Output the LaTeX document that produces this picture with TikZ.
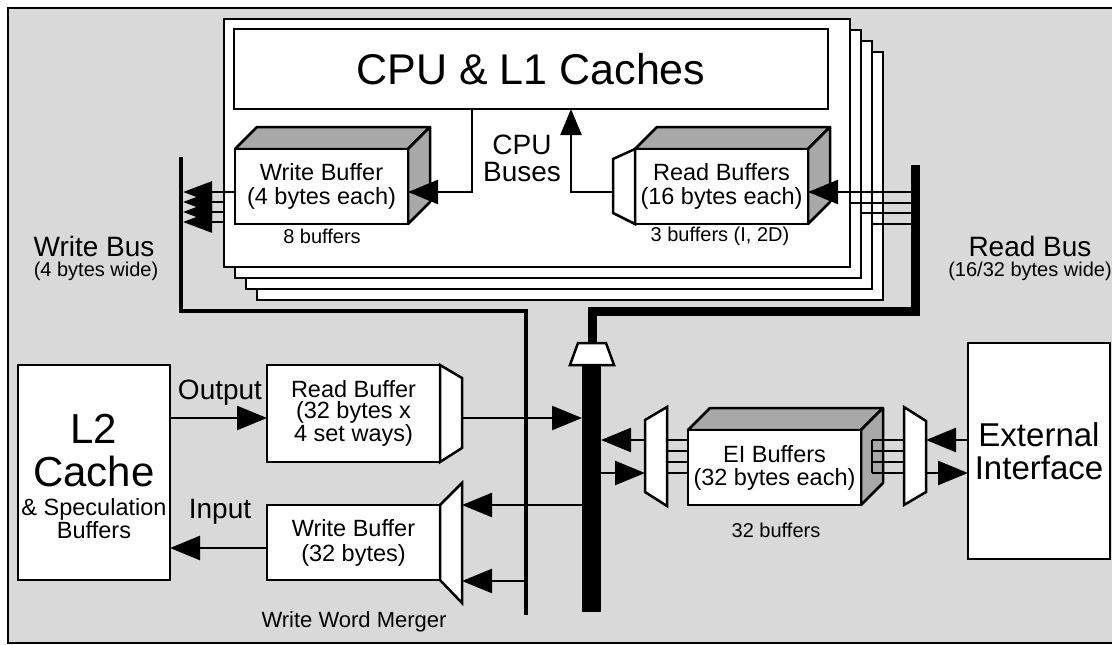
\documentclass[tikz,border=0pt]{standalone}
\usepackage{fontspec}
\setmainfont{Liberation Sans}
\usetikzlibrary{arrows.meta}
\definecolor{bggray}{gray}{0.85}
\definecolor{sidegray}{gray}{0.66}
\tikzset{
  ln/.style={line width=2.5pt},
  rect/.style={draw, line width=2.5pt, fill=white, inner sep=0pt, outer sep=0pt, anchor=north west},
  face/.style={draw, line width=2.5pt, fill=sidegray, line join=round},
  mux/.style={draw, line width=2.5pt, fill=white, line join=miter},
  arr/.style={line width=2.5pt, -{Triangle[length=30pt 0 0,width=24pt 0]}},
  warr/.style={line width=2.5pt, -{Triangle[length=29pt 0 0,width=21pt 0]}},
  uarr/.style={line width=2.5pt, -{Triangle[length=26pt 0 0,width=21pt 0]}},
  fcpu/.style={font={\fontsize{43}{46}\selectfont}},
  fbig/.style={font={\fontsize{42}{43}\selectfont}, align=center},
  fext/.style={font={\fontsize{33}{33}\selectfont}, align=center},
  flab/.style={font={\fontsize{28}{27}\selectfont}, align=center, inner sep=1pt},
  fbox/.style={font={\fontsize{23.5}{24}\selectfont}, align=center},
  fsm/.style={font={\fontsize{20}{22}\selectfont}, align=center, inner sep=1pt},
}
\begin{document}
\begin{tikzpicture}[x=1pt, y=-1pt]
\useasboundingbox (0,0) rectangle (1112,645);
\begin{scope}
\clip (0,0) rectangle (1112,645);
\draw[fill=bggray, line width=2.5pt] (8,8) rectangle (1125,643);
\end{scope}

% stacked CPU boards
\foreach \k in {3,2,1}{
  \draw[ln, fill=white] (224+11*\k, 19+11*\k) rectangle (850+11*\k, 267+11*\k);
}
\node[rect, minimum width=626pt, minimum height=248pt] (board) at (224,19) {};

% CPU & L1
\node[rect, minimum width=594pt, minimum height=80pt, fcpu] (cpu) at (234,29) {CPU \& L1 Caches};

% CPU write buffer
\draw[face] (235,149) -- (257,127) -- (430,127) -- (408,149) -- cycle;
\draw[face] (408,149) -- (430,127) -- (430,202) -- (408,224) -- cycle;
\node[rect, minimum width=173pt, minimum height=75pt, fbox] (wbuf) at (235,149) {Write Buffer\\(4 bytes each)};
\node[fsm] (wbufn) at (322,236) {8 buffers};

% CPU read buffers
\draw[face] (635,149) -- (657,127) -- (830,127) -- (808,149) -- cycle;
\draw[face] (808,149) -- (830,127) -- (830,202) -- (808,224) -- cycle;
\node[rect, minimum width=173pt, minimum height=75pt, fbox] (rbuf) at (635,149) {Read Buffers\\(16 bytes each)};
\draw[mux] (613,159) -- (635,149) -- (635,224) -- (613,213) -- cycle;
\coordinate (rmuxw) at (613,192);
\node[fsm] (rbufn) at (720,236) {3 buffers (I, 2D)};

\node[flab] (cpubus) at (522,158) {CPU\\Buses};

% CPU buses
\draw[arr] (cpu.south -| 472,0) |- (wbuf.east |- 0,192);
\draw[uarr] (rmuxw) -| (cpu.south -| 571,0);

% write bus
\draw[line width=4.5pt] (181,157) -- (181,311) -- (526,311) -- (526,615);
\coordinate (wbr) at (183,0);
\draw[warr] (wbuf.west |- 0,192) -- (wbr |- 0,192);
\foreach \y in {202,212,222}{
  \draw[warr] (board.west |- 0,\y) -- (wbr |- 0,\y);
}
\node[flab] (wblab) at (94,246) {Write Bus};
\node[fsm] (wbsub) at (96,271) {(4 bytes wide)};

% read bus
\draw[line width=9pt] (915,165) -- (915,311) -- (592,311) -- (592,344);
\coordinate (rbl) at (910.5,0);
\draw[arr] (rbl |- 0,192) -- (rbuf.east |- 0,192);
\draw[ln] (rbl |- 0,203) -- (850,203);
\draw[ln] (rbl |- 0,213) -- (861,213);
\draw[ln] (rbl |- 0,224) -- (872,224);
\node[flab] (rblab) at (1030,246) {Read Bus};
\node[fsm] (rbsub) at (1030,271) {(16/32 bytes wide)};

% main bus
\draw[mux] (578,343) -- (606,343) -- (614,365) -- (570,365) -- cycle;
\node[fill=black, inner sep=0pt, outer sep=0pt, minimum width=19pt, minimum height=247pt, anchor=north west] (mbus) at (582,365) {};

% L2
\node[rect, minimum width=152pt, minimum height=215pt] (l2) at (18,365) {};
\node[fbig] (l2t) at (94,451) {L2\\Cache};
\node[fbox, font={\fontsize{23.5}{23}\selectfont}] (l2s) at (94,518.5) {\& Speculation\\Buffers};

% lower read buffer
\node[rect, minimum width=173pt, minimum height=97pt, fbox, font={\fontsize{23.5}{21.5}\selectfont}] (rb2) at (267,365) {Read Buffer\\(32 bytes x\\4 set ways)};
\draw[mux] (440,365) -- (462,378) -- (462,448) -- (440,462) -- cycle;
\coordinate (rb2o) at (462,418);

% lower write buffer
\node[rect, minimum width=173pt, minimum height=75pt, fbox, font={\fontsize{23.5}{25}\selectfont}] (wb2) at (267,505) {Write Buffer\\(32 bytes)};
\draw[mux] (440,505) -- (462,483) -- (462,603) -- (440,580) -- cycle;
\coordinate (mrg) at (462,0);
\node[fsm, font={\fontsize{22}{24}\selectfont}] (mrglab) at (354,622) {Write Word Merger};

\draw[arr] (l2.east |- 0,418) -- (rb2.west |- 0,418);
\draw[arr] (wb2.west |- 0,548) -- (l2.east |- 0,548);
\node[flab] (outl) at (220,393) {Output};
\node[flab] (inl) at (220,512) {Input};

\draw[arr] (rb2o) -- (mbus.west |- 0,418);
\draw[arr] (mbus.west |- 0,505) -- (mrg |- 0,505);
\draw[arr] (526,581) -- (mrg |- 0,581);

% EI buffers
\draw[face] (688,430) -- (710,408) -- (883,408) -- (861,430) -- cycle;
\draw[face] (861,430) -- (883,408) -- (883,483) -- (861,505) -- cycle;
\node[rect, minimum width=173pt, minimum height=75pt, fbox, font={\fontsize{23.5}{23}\selectfont}] (ei) at (688,430) {EI Buffers\\(32 bytes each)};
\draw[mux] (645,420) -- (667,407) -- (667,506) -- (645,492) -- cycle;
\draw[mux] (904,407) -- (926,421) -- (926,492) -- (904,505) -- cycle;
\coordinate (lmux) at (645,0);
\coordinate (rmux) at (926,0);
\foreach \y in {440,451,462,473}{
  \draw[ln] (667,\y) -- (ei.west |- 0,\y);
  \draw[ln] (872,\y) -- (904,\y);
}
\draw[ln] (872,440) -- (872,473);
\node[fsm] (einote) at (776,530) {32 buffers};

\draw[arr] (lmux |- 0,440) -- (mbus.east |- 0,440);
\draw[arr] (mbus.east |- 0,473) -- (lmux |- 0,473);

% external interface
\node[rect, minimum width=142pt, minimum height=216pt, fext] (ext) at (968,343) {External\\Interface};
\draw[arr] (ext.west |- 0,440) -- (rmux |- 0,440);
\draw[arr] (rmux |- 0,473) -- (ext.west |- 0,473);
\end{tikzpicture}
\end{document}
